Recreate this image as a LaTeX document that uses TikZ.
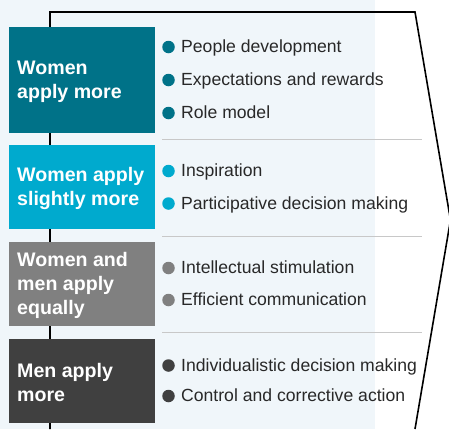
\documentclass[tikz,border=0pt]{standalone}
\usepackage{fontspec}
\setmainfont{Liberation Sans}
\definecolor{bgblue}{RGB}{240,246,250}
\definecolor{cA}{RGB}{0,114,136}
\definecolor{cB}{RGB}{0,170,206}
\definecolor{cC}{RGB}{128,128,128}
\definecolor{cD}{RGB}{64,64,64}
\definecolor{txt}{RGB}{40,40,40}
\definecolor{sep}{RGB}{200,200,200}
\tikzset{
  grpbox/.style={draw=none, fill=#1, minimum width=146pt, inner sep=0pt, anchor=north west},
  grplab/.style={anchor=west, align=left, text=white, font=\fontsize{19.6}{24}\selectfont\bfseries, inner sep=0pt, yshift=-1.5pt},
  bdot/.style={circle, fill=#1, minimum size=12.5pt, inner sep=0pt},
  item/.style={anchor=west, text=txt, font=\fontsize{17.6}{20}\selectfont, inner sep=0pt, text height=12pt, text depth=3.5pt, yshift=-1.5pt},
  sepline/.style={draw=sep, line width=1pt},
  frame/.style={draw=black, line width=1.6pt}
}
\begin{document}
\begin{tikzpicture}[x=1pt,y=-1pt]
\useasboundingbox (0,0) rectangle (449,429);
\fill[bgblue] (0,0) rectangle (375,429);
% frame
\coordinate (ftop) at (50,12);
\coordinate (fbot) at (50,429);
\coordinate (ftr) at (415,12);
\coordinate (fapex) at (450.5,220);
\coordinate (fbr) at (415,429);
\draw[frame] (fbot) -- (ftop) -- (ftr) -- (fapex) -- (fbr);
% boxes
\node[grpbox=cA, minimum height=106pt] (b1) at (9,27) {};
\node[grpbox=cB, minimum height=84pt] (b2) at (9,145) {};
\node[grpbox=cC, minimum height=84pt] (b3) at (9,242) {};
\node[grpbox=cD, minimum height=84pt] (b4) at (9,339) {};
\node[grplab] (l1) at ([xshift=8pt]b1.west) {Women\\apply more};
\node[grplab] (l2) at ([xshift=8pt]b2.west) {Women apply\\slightly more};
\node[grplab] (l3) at ([xshift=8pt]b3.west) {Women and\\men apply\\equally};
\node[grplab] (l4) at ([xshift=8pt]b4.west) {Men apply\\more};
% separators
\coordinate (s1a) at (162,139); \coordinate (s1b) at (422,139);
\coordinate (s2a) at (162,236); \coordinate (s2b) at (422,236);
\coordinate (s3a) at (162,332); \coordinate (s3b) at (422,332);
\draw[sepline] (s1a) -- (s1b);
\draw[sepline] (s2a) -- (s2b);
\draw[sepline] (s3a) -- (s3b);
% bullets
\node[bdot=cA] (d11) at (168.5,47) {};
\node[item] (t11) at (181,47) {People development};
\node[bdot=cA] (d12) at (168.5,80) {};
\node[item] (t12) at (181,80) {Expectations and rewards};
\node[bdot=cA] (d13) at (168.5,113) {};
\node[item] (t13) at (181,113) {Role model};
\node[bdot=cB] (d21) at (168.5,171) {};
\node[item] (t21) at (181,171) {Inspiration};
\node[bdot=cB] (d22) at (168.5,203.5) {};
\node[item] (t22) at (181,203.5) {Participative decision making};
\node[bdot=cC] (d31) at (168.5,268) {};
\node[item] (t31) at (181,268) {Intellectual stimulation};
\node[bdot=cC] (d32) at (168.5,300) {};
\node[item] (t32) at (181,300) {Efficient communication};
\node[bdot=cD] (d41) at (168.5,365.5) {};
\node[item] (t41) at (181,365.5) {Individualistic decision making};
\node[bdot=cD] (d42) at (168.5,396) {};
\node[item] (t42) at (181,396) {Control and corrective action};
\end{tikzpicture}
\end{document}
